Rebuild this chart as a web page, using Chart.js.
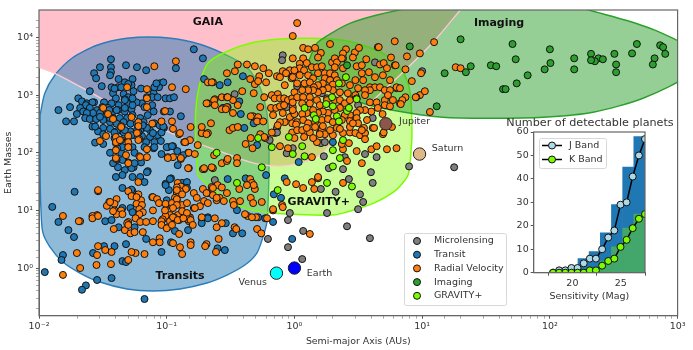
<!DOCTYPE html>
<html>
<head>
<meta charset="utf-8">
<title>Detectable planets</title>
<script src="https://cdn.jsdelivr.net/npm/chart.js@4"></script>
<style>
  body { margin: 0; background: #fff; }
  #wrap { position: relative; width: 693px; height: 350px; overflow: hidden; }
  canvas { position: absolute; filter: blur(0.3px); }
  #main { left: 0; top: 0; }
  #inset { left: 490px; top: 112px; }
</style>
</head>
<body>
<div id="wrap">
  <canvas id="main" width="693" height="350"></canvas>
  <canvas id="inset" width="200" height="200"></canvas>
</div>
<script>
// Planetas: [semieje en UA, masa en masas terrestres]
const transitPoints = [[.163,6240],[.192,4350],[.0366,4190],[.03,3050],[.048,3300],[.0585,3050],[.069,2700],[.0366,3050],[.0366,2500],[.036,2210],[.027,2400],[.028,1960],[.118,2930],[.042,1900],[.047,1670],[.054,1900],[.196,1900],[.26,1490],[.3,1670],[.031,1430],[.037,1370],[.0415,1370],[.053,1490],[.055,1170],[.046,1040],[.038,1080],[.05,920],[.047,850],[.04,880],[.063,1300],[.079,1080],[.088,1600],[.094,1670],[.087,1370],[.077,920],[.085,920],[.098,880],[.106,880],[.114,920],[.064,720],[.058,750],[.05,700],[.042,670],[.037,720],[.0323,750],[.025,1170],[.027,750],[.0203,880],[.0217,780],[.0237,720],[.0262,750],[.0142,550],[.0175,620],[.0198,470],[.0163,350],[.0188,350],[.0233,670],[.021,600],[.0222,520],[.025,600],[.0285,550],[.0313,550],[.0347,600],[.038,520],[.0415,550],[.047,520],[.053,570],[.067,620],[.077,670],[.079,520],[.071,450],[.062,400],[.054,450],[.049,400],[.043,400],[.038,400],[.0335,450],[.03,490],[.0265,490],[.0237,490],[.023,400],[.025,385],[.028,385],[.0318,370],[.036,340],[.0405,320],[.046,340],[.052,320],[.0585,320],[.066,340],[.08,325],[.088,300],[.129,430],[.106,520],[.095,520],[.074,247],[.065,270],[.0585,247],[.052,235],[.046,225],[.0405,235],[.036,260],[.0318,270],[.029,235],[.0262,285],[.0318,210],[.0275,150],[.0318,142],[.036,100],[.044,100],[.039,180],[.044,166],[.05,188],[.056,202],[.064,195],[.074,188],[.085,202],[.095,270],[.078,220],[.091,225],[.07,270],[.062,247],[.054,125],[.069,153],[.08,153],[.09,160],[.079,120],[.102,125],[.112,130],[.121,107],[.147,100],[.091,95],[.063,68],[.071,48],[.05,68],[.045,75],[.0405,75],[.055,56],[.0415,56],[.047,50],[.045,41],[.04,38],[.054,38],[.062,38],[.067,31],[.122,61],[.098,29],[.108,36],[.104,22.5],[.1,15],[.132,30],[.144,31],[.144,24.5],[.045,24.5],[.019,21],[.033,6.5],[.037,6.8],[.052,11],[.045,11],[.054,21.5],[.077,17],[.395,2130],[.37,780],[.3,620],[.275,600],[.38,470],[.48,325],[.405,270],[.188,220],[.135,91],[.196,52],[.3,35],[.415,36],[.51,136],[.6,41],[.69,19],[.785,16.5],[.84,36],[.52,7.6],[.21,7.6],[.188,7.3],[.59,7.3],[.0127,11.5],[.0142,6.3],[.017,4.55],[.0188,3.45],[.0154,1.68],[.015,1.38],[.0111,.85],[.0265,1.82],[.0323,2.4],[.039,2.4],[.048,2.6],[.045,1.32],[.048,1.27],[.0285,.62],[.037,.67],[.0233,.5],[.0217,.42],[.067,.29],[.091,1.9],[.108,2.8],[.069,3.2],[.056,5.1],[.042,5.1],[.054,9.3],[.053,23],[.106,35],[.098,27.5],[.116,4.4],[.147,4.55],[.188,6],[.21,7.3],[.25,2.2],[.285,2.05],[.33,4],[.39,4],[.29,6],[.68,6.3],[.355,10.1],[.96,3.2],[.038,66],[.053,54],[.056,66],[.07,46],[.056,100],[.045,125],[.041,120],[.067,125],[.08,125],[.1,125],[.11,130],[.094,285],[.065,300],[.06,225],[.053,202],[.047,247],[.039,225],[.0275,285],[.03,420],[.036,400],[.0313,620],[.0355,550],[.0405,550],[.047,600],[.054,670],[.047,820],[.054,880],[.039,1300],[.044,1370],[.05,1560],[.07,920],[.08,1370],[.083,1600],[1.08,69],[2,153]];

const radialVelocityPoints = [[.08,3170],[.049,1370],[.07,1270],[.07,880],[.07,620],[.118,3870],[.11,1370],[.141,1270],[.0318,600],[.0347,470],[.038,385],[.053,415],[.044,290],[.06,340],[.06,290],[.077,320],[.097,530],[.091,350],[.11,350],[.0585,220],[.061,172],[.05,195],[.04,188],[.0335,195],[.03,160],[.04,147],[.05,153],[.05,125],[.04,111],[.048,91],[.061,87],[.07,84],[.05,66],[.04,78],[.102,84],[.129,78],[.112,260],[.125,210],[.154,280],[.137,153],[.149,100],[.149,54],[.175,136],[.188,220],[.188,280],[.222,325],[.21,720],[.238,850],[.27,920],[.23,1670],[.21,1670],[.296,2400],[.342,2600],[.36,3400],[.425,3400],[.49,3170],[.53,2130],[.57,2930],[.63,2400],[.81,2600],[.89,2500],[.45,1900],[.49,1550],[.52,1750],[.6,1670],[.73,2130],[.48,1080],[.54,620],[.296,920],[.27,570],[.296,620],[.33,820],[.36,670],[.475,430],[.455,430],[.52,415],[.31,247],[.33,270],[.36,280],[.455,180],[.59,180],[.54,210],[.415,142],[.235,91],[.27,66],[.296,72],[.355,81],[.355,66],[.23,54],[.192,52],[.112,84],[1.05,17800],[.97,10600],[.97,4350],[.225,1670],[.92,2700],[.86,2400],[.77,2050],[.95,1960],[.84,1490],[.39,1170],[.3,920],[.235,820],[.205,720],[.238,670],[.29,570],[.33,490],[.51,350],[.57,350],[.21,220],[.58,920],[.665,1000],[.74,1040],[.7,880],[.77,880],[.83,880],[.89,820],[.96,880],[.655,600],[.72,600],[.77,640],[.83,670],[.68,450],[.81,490],[.97,620],[.97,450],[.92,415],[.84,340],[.77,340],[.96,325],[.96,225],[.74,300],[.665,225],[.127,220],[.141,153],[.152,166],[.205,210],[.166,95],[.102,81],[.47,120],[.58,188],[.77,130],[.89,120],[.3,78],[.225,56],[.196,54],[.225,25.5],[.25,27.5],[.296,20],[.21,20],[.23,18.4],[.26,16.5],[.246,15],[.196,14.5],[.182,11.8],[.163,11],[.21,13.4],[.33,14.5],[.335,12.4],[.455,16.5],[.49,23.5],[.555,14],[.45,35],[.465,30],[.48,27.5],[.425,27.5],[.37,23.5],[.68,10],[.8,12.4],[.152,7.6],[.238,7.3],[.27,6],[.34,5.1],[.43,8],[.5,7.6],[.122,30],[.129,26],[.12,25],[.141,23.5],[.127,21.5],[.12,20],[.163,20],[.172,16.5],[.116,16.5],[.1,12.4],[.11,12],[.12,15],[.132,9.3],[.132,12.4],[.147,7.6],[.122,8.3],[.106,8.3],[.098,8],[.114,7.6],[.125,6.8],[.149,6.5],[.102,5.1],[.044,280],[.06,166],[.05,125],[.04,153],[.043,166],[.07,115],[.062,84],[.04,81],[.139,153],[.129,81],[.147,54],[.029,21.5],[.06,31],[.05,21.5],[.053,17.7],[.06,19],[.0405,15.7],[.0355,14],[.039,13],[.034,12],[.063,15],[.078,17],[.084,15.7],[.087,13.4],[.098,13],[.11,13.4],[.12,15.7],[.12,22.5],[.132,19],[.144,13.4],[.12,12.4],[.058,13],[.064,12.4],[.078,10],[.039,10],[.044,10],[.0405,8.6],[.045,8.6],[.061,10.5],[.065,9.3],[.061,8.6],[.057,7.3],[.062,6.3],[.069,6.3],[.078,6.5],[.093,7],[.106,6.5],[.112,7.6],[.122,6.8],[.132,9.7],[.144,9],[.147,7],[.112,11],[.05,6.3],[.0285,8.3],[.0262,8],[.0262,7.3],[.021,6.5],[.0154,8],[.029,22.5],[.0205,6.5],[.029,8],[.036,14],[.038,9.7],[.058,17],[.166,11],[.192,23.5],[.205,20],[.23,24.5],[.27,25],[.246,16.5],[.28,14.5],[.375,14.5],[.475,13.4],[.41,8.6],[.465,7.6],[.61,7.3],[.51,4.75],[.55,4],[.246,5.1],[.35,4.75],[.255,3.2],[.243,1.9],[.205,2.6],[.2,2.4],[.154,2.8],[.154,2.5],[.132,1.75],[.127,2.3],[.112,2.7],[.088,3.3],[.088,2.8],[.078,2.8],[.067,1.75],[.057,1.82],[.053,1.9],[.05,1.38],[.037,1.9],[.033,2.05],[.029,2.4],[.0285,1.68],[.0198,1.82],[.0366,1.17],[.0282,1.13],[.021,1],[.0154,.76],[.091,6.5],[.091,5.6],[.047,4.55],[.0385,4.75],[.052,4],[.056,4.2],[.049,6],[.05,5.6],[.065,4.2],[.1,4.9],[.11,5.6],[.125,3.9],[.135,7.3],[.154,6.8],[.188,7.6],[.16,5.6],[.097,10],[1.03,28.5],[1.17,24.5],[1.37,31],[1.53,36],[1.43,23.5],[2.4,30],[.87,31],[.68,10.5],[.81,11.4],[1.32,3.9],[1.17,6600],[1.28,6240],[1.45,6600],[1.9,7700],[1.61,5400],[1.53,4500],[2.53,6240],[2.4,5300],[2.97,5500],[3.2,6600],[2.87,4500],[4.5,6800],[6.1,8600],[1.17,4350],[1.25,3600],[1.1,3500],[1.37,3050],[1.5,3050],[1.64,3170],[1.97,3700],[2.07,4350],[2.15,3700],[2.35,4350],[2.4,2930],[2.07,3050],[3.07,3170],[3.37,3300],[3.65,4190],[3.83,2500],[4.67,3400],[5,3600],[5.3,2930],[6.1,3300],[4.93,2210],[4.27,2050],[5.6,1820],[7.6,4700],[7.4,2800],[9.6,1000],[9,920],[7.4,920],[1.1,2930],[1,2700],[1.19,2700],[1.28,2210],[1.4,1960],[1.1,2210],[.97,2050],[1.05,1600],[1.2,1600],[1.32,1670],[1.53,2400],[1.73,2400],[1.9,2400],[2.07,2210],[1.73,1960],[1.9,1820],[2.15,1820],[1.67,1600],[2,1530],[1.53,1490],[1.42,1370],[2.35,1600],[2.72,1490],[3,1820],[3.37,2400],[3.45,1820],[3.9,1370],[4.27,1370],[4.67,1370],[5.1,1220],[5.6,1220],[6.3,1370],[6.7,1320],[3.9,1220],[3.57,1220],[3.15,1320],[3,1000],[2.62,1080],[2.27,1120],[2,1220],[1.83,1320],[1.67,1220],[1.53,1120],[1.4,1220],[1.28,1220],[1.15,1220],[1,1120],[1.05,920],[1.17,920],[1.32,920],[1.5,820],[1.32,720],[1.15,720],[.97,750],[1.58,670],[1.8,820],[2.07,820],[2.27,820],[2.48,720],[2.72,820],[3.07,880],[3.57,1000],[3.9,750],[4.4,750],[5.1,820],[5.4,1000],[5.9,820],[6.7,720],[7,820],[5.1,670],[4.5,600],[4,520],[4.9,470],[3.57,550],[3.26,550],[3.07,490],[2.72,450],[2.48,450],[2.27,600],[2.07,550],[1.83,490],[1.67,520],[1.53,490],[1.4,550],[1.25,490],[1.15,470],[1,470],[.97,550],[1.05,340],[1.17,370],[1.28,325],[1.45,340],[1.64,370],[1.83,385],[2,340],[2.35,370],[2.72,355],[3.07,400],[3.7,370],[1.03,310],[1.05,247],[1.19,188],[1.32,225],[1.45,280],[1.64,247],[1.73,210],[1.5,153],[1,180],[2,202],[1.9,247],[2.15,270],[2.4,220],[2.72,225],[3,220],[3.26,202],[3.57,220],[3.5,270],[3.15,325],[4.1,270],[4.93,210],[2.67,147],[3.57,172],[2.4,115],[2.35,142],[2.58,72],[3.07,107],[4,115],[4.4,130],[5.3,115],[6.3,120],[3.37,66],[1.37,84],[1.53,38],[1.15,247],[1.25,270],[1.67,290],[2.27,260],[2.72,280],[2.87,325],[3.37,247],[1.58,210],[1.4,180],[4.57,6800],[12.4,8300],[9.6,5300],[5.7,4500],[9.8,2400],[8.3,1750],[10.5,1170],[8.9,920],[11.5,510],[6.8,700],[5.6,640],[18.3,3050],[20,2930],[5,225],[4.2,270],[5.8,280],[6.2,3300]];

const microlensingPoints = [[.81,4920],[.8,4030],[.34,1040],[.87,620],[.73,270],[.7,220],[.64,166],[1.64,1080],[1.8,880],[1.58,220],[.97,120],[.87,98],[.238,33.6],[.73,225],[.92,9],[.89,6.8],[1.05,1430],[2.4,4350],[4.27,3700],[6.3,1320],[3.15,670],[4.1,400],[1.61,147],[1.73,153],[1.7,87],[1.86,54],[2.4,52],[2.48,84],[2.67,35],[1.61,23.5],[2.1,21],[3.57,95],[4.4,84],[3.97,46],[4.1,30],[3.26,19],[3.45,14],[3.15,10.5],[1.8,9],[7.9,58],[10,2600],[17.8,56],[2.58,5.3],[3.9,3.3],[.62,3.2],[.89,2.3],[1.17,4.4],[1.15,1.43]];

const imagingPoints = [[8,7000],[20,9300],[51,7700],[100,6240],[54,4190],[480,7700],[730,7330],[770,6800],[800,5200],[440,5300],[320,5200],[210,5200],[240,4350],[260,4190],[225,3870],[210,4030],[155,4350],[155,2800],[101,3600],[91,2800],[330,3400],[330,2500],[660,4350],[640,3400],[34.5,3300],[38,3170],[24,3170],[22,2500],[15,2400],[67,2210],[43,1270],[45,1270],[55,1600],[13,640],[2.58,3300]];

const gravityPoints = [[1.2,600],[1.77,700],[2,640],[1.97,920],[2.23,1600],[2.53,2050],[1.42,450],[1.47,385],[2.15,430],[2.23,350],[2.58,530],[2.67,600],[3.07,850],[.905,188],[1.15,130],[.97,95],[1.2,87],[.52,180],[.665,125],[2.4,166],[2,111],[2.27,81],[2,58],[.246,100],[.555,56],[.355,30],[.74,22.5],[1.8,30],[2.82,26]];

// Planetas del sistema solar
const solarNames = ["Jupiter", "Saturn", "Earth", "Venus"];
const solarAxis = [5.2, 9.54, 1, 0.723];
const solarMass = [318, 95, 1, 0.815];
const solarColors = ["#8c564b", "#deb887", "#0000ff", "#00ffff"];

// Contornos de las regiones de sensibilidad
const gaiaEdge = [[.01,3050],[.0138,2300],[.0221,1320],[.0407,617],[.0738,326],[.134,179],[.247,111],[.449,68.7],[.73,58.6],[1.1,66],[1.58,90.8],[2.72,326],[3.9,724],[7.08,2495],[12.2,8260],[19.8,29600]];
const gaiaCorners = [[19.8,60000],[.008,60000],[.008,3400]];
const transitEdge = [[.0102,449],[.0111,1079],[.0133,2213],[.0181,4365],[.0284,7328],[.0488,9683],[.0885,10080],[.16,8260],[.275,5320],[.425,3047],[.537,1370],[.609,486],[.631,147],[.631,40.9],[.62,11],[.609,6.27],[.567,3.44],[.508,1.82],[.409,1.13],[.296,.757],[.206,.55],[.127,.433],[.078,.399],[.0488,.433],[.03,.572],[.0209,.82],[.0154,1.27],[.0122,2.31],[.0107,4.2],[.01035,11],[.0102,40.9],[.0102,147],[.0102,449]];
const gravityEdge = [[.175,40.9],[.169,147],[.169,547],[.182,1607],[.21,3570],[.286,5545],[.449,7930],[.73,9310],[1.32,9680],[2.4,8940],[3.44,7330],[4.93,5320],[6.7,3047],[7.74,1607],[8.17,816],[8.32,219],[8.17,102],[7.74,40.9],[6.24,22.5],[4.35,13.9],[3.26,11],[2.4,8.98],[2,8.3],[.873,8.63],[.473,10.1],[.313,13.9],[.23,22.5],[.175,40.9]];
const imagingEdge = [[1.28,3715],[1.5,7930],[2,12300],[2.72,17600],[4.35,24300],[7.08,31000],[30,60000],[80,60000],[192,31000],[394,19900],[728,12300],[1300,6000],[1300,2500],[536,883],[218,506],[88.3,414],[34,398],[14.5,414],[5.9,547],[3.26,753],[2.72,995],[2,1318],[1.5,1963],[1.28,3047],[1.28,3715]];

// Textos sobre el gráfico, anclados en unidades de datos
const regionNames = ["GAIA", "Imaging", "Transits", "GRAVITY+"];
const regionAxis = [0.21, 40, 0.127, 1.55];
const regionMass = [18300, 17600, 0.73, 14];
const solarLabelAxis = [6.6, 11.9, 1.25, 0.61];
const solarLabelMass = [353, 120, 0.79, 0.55];

// Histograma y curvas del recuadro
const histCenters = [18.84, 20, 21.15, 22.3, 23.46, 24.61, 25.77, 26.92];
const histJ = [1, 2, 6, 9, 17, 29, 45, 58];
const histK = [0, 0, 1, 2, 5, 11, 19, 25];
const sensitivity = [18, 18.63, 19.27, 19.9, 20.53, 21.17, 21.8, 22.43, 23.07, 23.7, 24.33, 24.97, 25.6, 26.23, 26.87, 27.5];
const curveJ = [0, 1, 1, 2, 2, 4, 6, 6, 10, 15, 18, 29, 30, 41, 50, 57];
const curveK = [0, 0, 0, 0, 0, 0, 1, 1, 3, 5, 6, 11, 14, 19, 23, 25];
const sensitivityTicks = [20, 25];

const legendNames = ["Microlensing", "Transit", "Radial Velocity", "Imaging", "GRAVITY+"];
const legendColors = ["#7f7f7f", "#1f77b4", "#ff7f0e", "#2ca02c", "#7cfc00"];

const FONT = '"DejaVu Sans", sans-serif';
const TEXT_COLOR = "#333";
const MARKER_RADIUS = 3.5;

const toXY = pts => pts.map(([x, y]) => ({ x, y }));

function esDecada(v) {
  const l = Math.log10(v);
  return Math.abs(l - Math.round(l)) < 1e-6;
}

function etiquetaLog(v) {
  if (!esDecada(v)) return "";
  const sup = { "-": "⁻", "0": "⁰", "1": "¹", "2": "²", "3": "³", "4": "⁴" };
  return "10" + String(Math.round(Math.log10(v))).split("").map(c => sup[c]).join("");
}

function puntos(label, pts, color, order) {
  return {
    label, data: toXY(pts), order,
    pointRadius: MARKER_RADIUS, pointBorderWidth: 1,
    pointBackgroundColor: color, pointBorderColor: "#111"
  };
}

function region(label, pts, fillColor, edgeColor, order, borderWidth) {
  return {
    label, data: toXY(pts), order,
    showLine: true, fill: "shape", tension: 0.25,
    backgroundColor: fillColor, borderColor: edgeColor, borderWidth,
    pointRadius: 0
  };
}

function ejeLog(min, max, extra) {
  return Object.assign({
    type: "logarithmic", min, max,
    border: { color: "#666", width: 1 },
    grid: {
      drawOnChartArea: false, drawTicks: true, tickLength: 3, tickColor: "#555",
      tickWidth: c => (esDecada(c.tick.value) ? 1 : 0.5)
    },
    afterBuildTicks: s => { s.ticks = s.ticks.filter(t => t.value > min * 1.001 && t.value < max * 0.999 || esDecada(t.value)); }
  }, extra);
}

// Marco completo del área de datos
const marco = {
  id: "marco",
  afterDatasetsDraw(chart) {
    const { ctx, chartArea: a } = chart;
    ctx.save();
    ctx.strokeStyle = "#666";
    ctx.lineWidth = 1.2;
    ctx.strokeRect(a.left, a.top, a.right - a.left, a.bottom - a.top);
    ctx.restore();
  }
};

function cajaLeyenda(ctx, x, y, w, h) {
  ctx.beginPath();
  ctx.roundRect(x, y, w, h, 2);
  ctx.fillStyle = "rgba(255,255,255,0.85)";
  ctx.fill();
  ctx.strokeStyle = "#d8d8d8";
  ctx.lineWidth = 1;
  ctx.stroke();
}

function marcador(ctx, x, y, color) {
  ctx.beginPath();
  ctx.arc(x, y, MARKER_RADIUS, 0, Math.PI * 2);
  ctx.fillStyle = color;
  ctx.fill();
  ctx.strokeStyle = "#111";
  ctx.lineWidth = 1;
  ctx.stroke();
}

// Rótulos de regiones y planetas, y la leyenda principal
const rotulos = {
  id: "rotulos",
  afterDraw(chart) {
    const { ctx, scales } = chart;
    ctx.save();
    ctx.textBaseline = "middle";
    ctx.fillStyle = "#111";
    ctx.textAlign = "center";
    ctx.font = "bold 11px " + FONT;
    regionNames.forEach((name, i) => {
      ctx.fillText(name, scales.x.getPixelForValue(regionAxis[i]), scales.y.getPixelForValue(regionMass[i]));
    });
    ctx.fillStyle = TEXT_COLOR;
    ctx.font = "9.5px " + FONT;
    solarNames.forEach((name, i) => {
      ctx.textAlign = name === "Venus" ? "right" : "left";
      ctx.fillText(name, scales.x.getPixelForValue(solarLabelAxis[i]), scales.y.getPixelForValue(solarLabelMass[i]));
    });

    cajaLeyenda(ctx, 404.5, 233.5, 102, 72);
    ctx.textAlign = "left";
    legendNames.forEach((name, i) => {
      const y = 241 + i * 13.7;
      marcador(ctx, 417, y, legendColors[i]);
      ctx.fillStyle = TEXT_COLOR;
      ctx.fillText(name, 434, y);
    });
    ctx.restore();
  }
};

// Título y leyenda del recuadro, relativos a su canvas
const leyendaInset = {
  id: "leyendaInset",
  afterDraw(chart) {
    const { ctx } = chart;
    ctx.save();
    ctx.textBaseline = "middle";
    ctx.textAlign = "center";
    ctx.fillStyle = TEXT_COLOR;
    ctx.font = "11.2px " + FONT;
    ctx.fillText("Number of detectable planets", 100, 11);

    cajaLeyenda(ctx, 49.5, 26.5, 67, 30);
    ctx.textAlign = "left";
    ctx.font = "9.5px " + FONT;
    [["J Band", "#add8e6"], ["K Band", "#7cfc00"]].forEach(([name, color], i) => {
      const y = 33.5 + i * 14;
      ctx.beginPath();
      ctx.moveTo(52, y);
      ctx.lineTo(72, y);
      ctx.strokeStyle = "#000";
      ctx.lineWidth = 1.5;
      ctx.stroke();
      marcador(ctx, 62, y, color);
      ctx.fillStyle = TEXT_COLOR;
      ctx.fillText(name, 79, y);
    });
    ctx.restore();
  }
};

new Chart(document.getElementById("main"), {
  type: "scatter",
  data: {
    datasets: [
      {
        label: "Solar System", order: 0,
        data: solarAxis.map((x, i) => ({ x, y: solarMass[i] })),
        pointRadius: 6.2, pointBorderWidth: 1, pointBorderColor: "#222",
        pointBackgroundColor: solarColors
      },
      puntos("GRAVITY+", gravityPoints, "#7cfc00", 1),
      puntos("Imaging", imagingPoints, "#2ca02c", 2),
      puntos("Radial Velocity", radialVelocityPoints, "#ff7f0e", 3),
      puntos("Transit", transitPoints, "#1f77b4", 4),
      puntos("Microlensing", microlensingPoints, "#7f7f7f", 5),
      {
        label: "GAIA edge", data: toXY(gaiaEdge), order: 10,
        showLine: true, tension: 0.25, borderColor: "#ffc8d2", borderWidth: 1.4, pointRadius: 0
      },
      region("Imaging region", imagingEdge, "rgba(44,160,44,0.5)", "#2ca02c", 11, 1.4),
      region("GRAVITY+ region", gravityEdge, "rgba(124,252,0,0.4)", "#7cfc00", 12, 1.5),
      region("Transit region", transitEdge, "rgba(31,119,180,0.5)", "#2a7db8", 13, 1.4),
      region("GAIA region", gaiaEdge.concat(gaiaCorners), "#ffc0cb", "rgba(0,0,0,0)", 14, 0)
    ]
  },
  options: {
    responsive: false,
    animation: false,
    events: [],
    layout: { padding: { top: 10, right: 15.4 } },
    plugins: { legend: { display: false }, tooltip: { enabled: false } },
    scales: {
      x: ejeLog(0.01, 1000, {
        title: { display: true, text: "Semi-major Axis (AUs)", color: TEXT_COLOR, font: { family: FONT, size: 9.4 }, padding: { top: 0, bottom: 3 } },
        ticks: { autoSkip: false, maxRotation: 0, color: TEXT_COLOR, padding: 2, font: { family: FONT, size: 9.5 }, callback: etiquetaLog },
        afterFit: s => { s.height = 34.3; }
      }),
      y: ejeLog(0.149, 30000, {
        title: { display: true, text: "Earth Masses", color: TEXT_COLOR, font: { family: FONT, size: 9.4 }, padding: { top: 3, bottom: 0 } },
        ticks: { autoSkip: false, color: TEXT_COLOR, padding: 3, font: { family: FONT, size: 9.5 }, callback: etiquetaLog },
        afterFit: s => { s.width = 39; }
      })
    }
  },
  plugins: [marco, rotulos]
});

new Chart(document.getElementById("inset"), {
  type: "bar",
  data: {
    datasets: [
      {
        type: "line", label: "K Band", order: 1,
        data: sensitivity.map((x, i) => ({ x, y: curveK[i] })),
        borderColor: "#000", borderWidth: 1.5, pointRadius: MARKER_RADIUS, pointBorderWidth: 1,
        pointBackgroundColor: "#7cfc00", pointBorderColor: "#111"
      },
      {
        type: "line", label: "J Band", order: 2,
        data: sensitivity.map((x, i) => ({ x, y: curveJ[i] })),
        borderColor: "#000", borderWidth: 1.5, pointRadius: MARKER_RADIUS, pointBorderWidth: 1,
        pointBackgroundColor: "#add8e6", pointBorderColor: "#111"
      },
      {
        label: "K", order: 3, grouped: false, backgroundColor: "#43a66a",
        barPercentage: 1, categoryPercentage: 1,
        data: histCenters.map((x, i) => ({ x, y: histK[i] }))
      },
      {
        label: "J", order: 4, grouped: false, backgroundColor: "#1f77b4",
        barPercentage: 1, categoryPercentage: 1,
        data: histCenters.map((x, i) => ({ x, y: histJ[i] }))
      }
    ]
  },
  options: {
    responsive: false,
    animation: false,
    events: [],
    layout: { padding: { top: 20, right: 45 } },
    plugins: { legend: { display: false }, tooltip: { enabled: false } },
    scales: {
      x: {
        type: "linear", min: 16, max: 27.5, offset: false,
        border: { color: "#666" },
        grid: { drawOnChartArea: false, tickLength: 3, tickColor: "#555" },
        title: { display: true, text: "Sensitivity (Mag)", color: TEXT_COLOR, font: { family: FONT, size: 9.5 }, padding: { top: 2, bottom: 10 } },
        ticks: { autoSkip: false, color: TEXT_COLOR, padding: 2, font: { family: FONT, size: 9.5 }, maxRotation: 0, callback: v => String(v) },
        afterBuildTicks: s => { s.ticks = sensitivityTicks.map(value => ({ value })); },
        afterFit: s => { s.height = 39.3; }
      },
      y: {
        min: 0, max: 60,
        border: { color: "#666" },
        grid: { drawOnChartArea: false, tickLength: 3, tickColor: "#555" },
        ticks: { stepSize: 10, color: TEXT_COLOR, padding: 2, font: { family: FONT, size: 9.5 } },
        afterFit: s => { s.width = 43.7; }
      }
    }
  },
  plugins: [marco, leyendaInset]
});
</script>
</body>
</html>
